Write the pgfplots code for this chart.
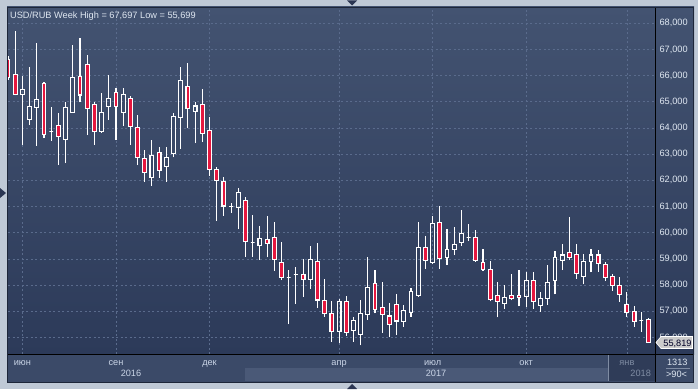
\documentclass[border=0pt]{standalone}
\usepackage{pgfplots}
\pgfplotsset{compat=1.18}
\usepackage{pgfplotstable}
\usepackage{fontspec}
\setmainfont{Liberation Sans}
\definecolor{outerc}{HTML}{BFC9D6}
\definecolor{paneltop}{HTML}{435371}
\definecolor{panelbot}{HTML}{2C3A59}
\definecolor{bandc}{HTML}{3B4A68}
\definecolor{stripc}{HTML}{4A5977}
\definecolor{dimc}{HTML}{2F3C58}
\definecolor{gridc}{HTML}{5A6B8C}
\definecolor{txtc}{HTML}{DFE7F1}
\definecolor{lbltxt}{HTML}{C9D4E6}
\definecolor{dimtxt}{HTML}{7F8CA3}
\definecolor{candlered}{HTML}{E5173F}
\definecolor{framec}{HTML}{1D2639}
\definecolor{tric}{HTML}{2A3552}
\def\yu{26.1804}
\pgfdeclareplotmark{candleR}{%
  \pgfmathsetmacro\cLo{(min(\vo,\vc)-\vl)*\yu}%
  \pgfmathsetmacro\cHi{(max(\vo,\vc)-\vl)*\yu}%
  \pgfmathsetmacro\cTp{(\vh-\vl)*\yu}%
  \pgfpathmoveto{\pgfpointorigin}%
  \pgfpathlineto{\pgfpoint{0pt}{\cLo pt}}%
  \pgfpathmoveto{\pgfpoint{0pt}{\cHi pt}}%
  \pgfpathlineto{\pgfpoint{0pt}{\cTp pt}}%
  \pgfusepathqstroke
  \pgfpathrectangle{\pgfpoint{-1.9pt}{\cLo pt}}{\pgfpoint{3.8pt}{\cHi pt-\cLo pt}}%
  \pgfusepathqfillstroke
}
\pgfdeclareplotmark{candleW}{%
  \pgfmathsetmacro\cLo{(min(\vo,\vc)-\vl)*\yu}%
  \pgfmathsetmacro\cHi{(max(\vo,\vc)-\vl)*\yu}%
  \pgfmathsetmacro\cTp{(\vh-\vl)*\yu}%
  \pgfpathmoveto{\pgfpointorigin}%
  \pgfpathlineto{\pgfpoint{0pt}{\cLo pt}}%
  \pgfpathmoveto{\pgfpoint{0pt}{\cHi pt}}%
  \pgfpathlineto{\pgfpoint{0pt}{\cTp pt}}%
  \pgfusepathqstroke
  \pgfpathrectangle{\pgfpoint{-1.9pt}{\cLo pt}}{\pgfpoint{3.8pt}{\cHi pt-\cLo pt}}%
  \pgfusepathqstroke
}
% bearish weeks (close < open)
\pgfplotstableread{
i o h l c
0 66.62 66.75 65.85 65.94
1 66.05 67.697 65.25 65.29
5 65.71 65.77 63.61 63.76
7 64.10 64.56 62.60 63.68
10 65.98 67.44 64.98 65.26
11 66.43 66.79 63.73 64.75
12 64.91 64.98 63.36 63.86
15 65.36 65.53 63.55 64.81
17 65.14 65.21 63.36 64.05
18 64.03 64.50 62.58 62.88
19 62.84 63.16 61.95 62.29
21 63.07 63.29 62.10 62.38
25 65.60 66.48 63.99 64.75
27 64.91 65.48 63.48 63.80
28 63.91 64.41 62.18 62.41
29 62.42 62.51 60.46 62.01
30 61.95 62.13 60.65 61.02
33 61.22 61.35 59.08 59.65
36 59.75 60.64 59.06 59.60
37 59.83 60.41 58.55 58.99
38 58.88 59.66 58.19 58.30
41 58.41 59.00 57.56 58.22
43 58.91 59.61 57.14 57.43
44 57.42 58.23 56.80 56.92
45 56.92 57.39 55.84 56.22
47 57.37 57.58 56.07 56.20
51 58.07 58.58 56.92 57.08
52 57.15 58.12 56.18 56.88
53 56.82 57.30 56.00 56.50
54 57.27 57.65 56.09 56.63
58 59.44 59.88 58.63 58.95
60 60.40 61.02 58.63 59.02
65 59.83 60.09 58.90 58.95
66 58.87 59.37 58.55 58.60
67 58.60 58.92 57.38 57.46
68 57.61 58.11 56.77 57.38
70 57.61 58.42 57.42 57.50
71 57.61 58.57 57.19 57.53
73 58.16 58.51 57.08 57.37
78 59.25 60.60 58.95 59.05
79 59.18 59.58 58.24 58.46
82 59.15 59.33 58.51 58.83
83 58.79 58.87 58.17 58.30
84 58.34 58.44 57.78 57.99
85 57.99 58.31 57.37 57.65
86 57.27 57.74 56.79 56.97
87 57.00 57.20 56.41 56.62
89 56.70 56.73 55.82 55.819
}\redtab
% bullish weeks (close >= open)
\pgfplotstableread{
i o h l c
2 65.29 65.99 63.35 65.48
3 64.33 66.33 64.12 64.81
4 64.79 67.25 63.32 65.10
6 63.85 64.79 63.52 63.85
8 63.57 64.99 62.66 64.79
9 64.60 67.17 64.58 65.94
13 63.86 65.34 63.85 64.60
14 64.81 66.01 64.31 65.14
16 64.59 65.52 64.08 65.29
20 62.12 63.54 61.80 62.96
22 62.52 63.26 61.95 62.89
23 63.02 64.56 62.88 64.45
24 64.41 66.33 63.21 65.82
26 64.64 64.98 63.42 64.84
31 61.00 61.12 60.77 61.00
32 60.97 61.70 60.13 61.54
34 59.61 60.68 59.08 59.61
35 59.51 60.27 58.96 59.79
39 58.29 58.58 56.51 58.29
40 58.40 58.69 57.29 58.40
42 58.22 59.49 57.86 58.99
46 56.22 57.46 55.80 57.37
48 56.27 56.79 55.84 56.64
49 56.12 57.43 55.699 56.92
50 56.88 59.06 56.67 57.92
55 56.60 57.23 56.41 57.04
56 56.95 57.88 56.79 57.76
57 57.61 60.41 57.56 59.44
59 58.87 60.64 58.79 60.36
61 59.06 60.13 58.76 59.37
62 59.37 60.22 59.14 59.56
63 59.64 60.87 59.49 59.98
64 59.83 60.32 59.68 59.83
69 57.30 57.99 57.08 57.53
72 57.58 58.51 57.18 58.16
74 57.23 57.75 56.98 57.50
75 57.48 58.77 57.24 58.11
76 58.18 59.30 57.65 59.06
77 58.95 59.58 58.57 59.15
80 58.32 59.18 58.03 58.91
81 58.91 59.38 58.49 59.15
88 56.66 56.96 56.22 56.66
}\whitetab
\begin{document}
\begin{tikzpicture}
\begin{scope}[x=1pt,y=1pt]
\useasboundingbox (0,0) rectangle (698,389);
\fill[outerc] (0,0) rectangle (698,389);
\shade[top color=paneltop, bottom color=panelbot] (7,35) rectangle (694,382);
\fill[bandc] (7,7) rectangle (694,35);
\fill[stripc] (245,8) rectangle (608,21);
\fill[dimc] (609,8) rectangle (655,35);
\draw[line width=0.8pt, color=dimtxt] (608.5,8) -- (608.5,34);
\end{scope}
\begin{axis}[
  at={(8pt,35pt)}, anchor=south west,
  scale only axis, width=647pt, height=346pt,
  xmin=0, xmax=89.9, ymin=55.368, ymax=68.584,
  axis line style={draw=none},
  major tick length=0pt,
  clip marker paths=true,
  grid=major,
  major grid style={gridc, dash pattern=on 2pt off 2.5pt, line width=0.7pt},
  xtick={2,15,28,46,59,72,86},
  xticklabels={июн,сен,дек,апр,июл,окт,\textcolor{dimtxt}{янв}},
  xticklabel style={font=\fontsize{9.2}{11}\selectfont, text=lbltxt, anchor=base, yshift=-11.3pt},
  ytick={56,57,...,68},
  ytick pos=right, yticklabel pos=right,
  yticklabel style={font=\fontsize{9.2}{11}\selectfont, text=txtc, anchor=west, xshift=1pt,
    /pgf/number format/.cd, fixed, fixed zerofill, precision=3, use comma, assume math mode=true},
]
\addplot[scatter, only marks, mark=candleR, line width=1.1pt,
  scatter/use mapped color={draw=white, fill=candlered},
  visualization depends on={\thisrow{o} \as \vo},
  visualization depends on={\thisrow{h} \as \vh},
  visualization depends on={\thisrow{l} \as \vl},
  visualization depends on={\thisrow{c} \as \vc}]
  table[x=i, y=l]{\redtab};
\addplot[scatter, only marks, mark=candleW, line width=1.1pt,
  scatter/use mapped color={draw=white, fill=white},
  visualization depends on={\thisrow{o} \as \vo},
  visualization depends on={\thisrow{h} \as \vh},
  visualization depends on={\thisrow{l} \as \vl},
  visualization depends on={\thisrow{c} \as \vc}]
  table[x=i, y=l]{\whitetab};
\end{axis}
\begin{scope}[x=1pt,y=1pt]
\draw[framec, line width=1pt] (7,381.5) -- (694,381.5);
\draw[framec, line width=1pt] (7.5,7) -- (7.5,382);
\draw[black, line width=1pt] (655,7) -- (655,381);
\draw[black, line width=1pt] (8,35) -- (694,35);
\draw[framec, line width=0.8pt] (7,7) -- (694,7);
\draw[framec, line width=0.8pt] (693.6,7) -- (693.6,382);
\node[anchor=base west, inner sep=0pt, text=txtc, font=\fontsize{9.2}{11}\selectfont] at (10,370.7) {USD/RUB Week High = 67,697 Low = 55,699};
\node[anchor=base, inner sep=0pt, text=lbltxt, font=\fontsize{9.2}{11}\selectfont] at (131,12.3) {2016};
\node[anchor=base, inner sep=0pt, text=lbltxt, font=\fontsize{9.2}{11}\selectfont] at (436,12.3) {2017};
\node[anchor=base, inner sep=0pt, text=dimtxt, font=\fontsize{9.2}{11}\selectfont] at (640.7,12.3) {2018};
\node[anchor=base, inner sep=0pt, text=txtc, font=\fontsize{9.2}{11}\selectfont] at (677.3,23.7) {1313};
\draw[dimtxt, line width=0.6pt] (666,20.7) -- (690,20.7);
\node[anchor=base, inner sep=0pt, text=txtc, font=\fontsize{9.2}{11}\selectfont] at (676.5,11.3) {>90<};
\filldraw[fill=black!20!white, draw=white, line width=0.6pt] (656,46.5) -- (661,52.5) -- (692.5,52.5) -- (692.5,40.5) -- (661,40.5) -- cycle;
\node[anchor=base, inner sep=0pt, text=black!85!blue, font=\fontsize{9.2}{11}\selectfont] at (677.5,42.4) {55,819};
\fill[tric] (347,388.5) -- (357,388.5) -- (352,383.5) -- cycle;
\fill[tric] (0,201) -- (0,191) -- (6,196) -- cycle;
\fill[tric] (347,0) -- (357,0) -- (352,5) -- cycle;
\end{scope}
\end{tikzpicture}
\end{document}
